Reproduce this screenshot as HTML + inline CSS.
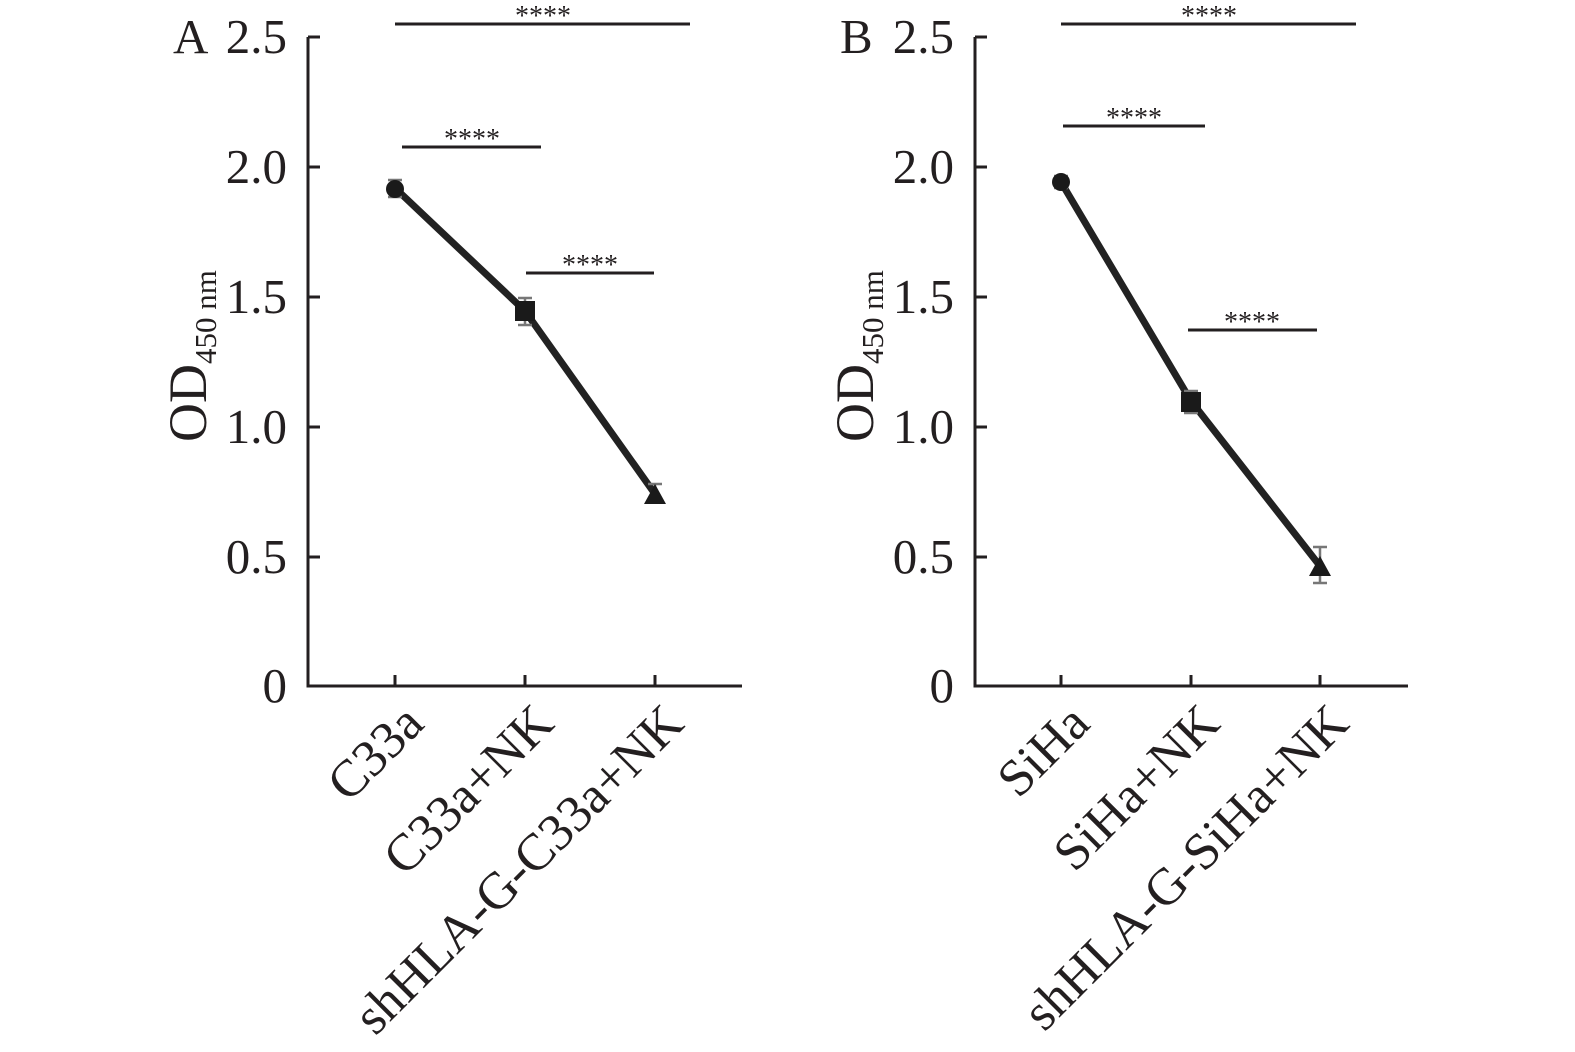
<!DOCTYPE html>
<html><head><style>body{margin:0;background:#fff}svg{display:block}text{font-family:"Liberation Serif","Times New Roman",serif;fill:#231f20}</style></head>
<body>
<svg width="1575" height="1052" viewBox="0 0 1575 1052">
<g stroke="#231f20" stroke-width="3" fill="none">
<path d="M308,37 V686 H742"/>
<path d="M308,37 h12 M308,167 h12 M308,297 h12 M308,427 h12 M308,557 h12"/>
<path d="M395,686 v-11 M525,686 v-11 M655,686 v-11"/>
<path d="M975,37 V686 H1408"/>
<path d="M975,37 h12 M975,167 h12 M975,297 h12 M975,427 h12 M975,557 h12"/>
<path d="M1061,686 v-11 M1191,686 v-11 M1320,686 v-11"/>
<path d="M395,24 H690 M402,147 H541 M526,273 H654"/>
<path d="M1061,24 H1356 M1063,126 H1205 M1188,330 H1317"/>
</g>
<g stroke="#222" stroke-width="7" fill="none"><path d="M395,188 L525,311 L655,494"/><path d="M1061,182 L1191,401 L1320,566"/></g>
<g stroke="#777" stroke-width="2.5" fill="none">
<path d="M395,180 v17 M388,180 h14 M388,197 h14"/>
<path d="M525,298 v27 M518,298 h14 M518,325 h14"/>
<path d="M655,484 v12 M648,484 h14"/>
<path d="M1061,176 v12 M1054,176 h14 M1054,188 h14"/>
<path d="M1191,391 v22 M1184,391 h14 M1184,413 h14"/>
<path d="M1320,547 v36 M1313,547 h14 M1313,583 h14"/>
</g>
<g fill="#1a1a1a">
<circle cx="395" cy="189" r="9"/><rect x="515" y="301" width="20" height="20"/><path d="M655,484 L666,504 L644,504Z"/>
<circle cx="1061" cy="182" r="9"/><rect x="1181" y="392" width="20" height="20"/><path d="M1320,556 L1331,576 L1309,576Z"/>
</g>
<g font-size="28" text-anchor="middle">
<text x="543" y="25">****</text><text x="472" y="148">****</text><text x="590" y="274">****</text>
<text x="1209" y="25">****</text><text x="1134" y="127">****</text><text x="1252" y="331">****</text>
</g>
<g font-size="49" text-anchor="end">
<text x="287" y="53">2.5</text><text x="287" y="183">2.0</text><text x="287" y="313">1.5</text><text x="287" y="443">1.0</text><text x="287" y="573">0.5</text><text x="287" y="702">0</text>
<text x="954" y="53">2.5</text><text x="954" y="183">2.0</text><text x="954" y="313">1.5</text><text x="954" y="443">1.0</text><text x="954" y="573">0.5</text><text x="954" y="702">0</text>
</g>
<text x="173" y="53" font-size="49">A</text>
<text x="840" y="53" font-size="49">B</text>
<text transform="translate(206,442) rotate(-90)" font-size="54">OD<tspan font-size="31" dy="10">450 nm</tspan></text>
<text transform="translate(873,442) rotate(-90)" font-size="54">OD<tspan font-size="31" dy="10">450 nm</tspan></text>
<g font-size="52" text-anchor="end">
<text transform="translate(426,726) rotate(-45)">C33a</text>
<text transform="translate(556,726) rotate(-45)">C33a+NK</text>
<text transform="translate(686,726) rotate(-45)">shHLA-G-C33a+NK</text>
<text transform="translate(1092,726) rotate(-45)">SiHa</text>
<text transform="translate(1222,726) rotate(-45)">SiHa+NK</text>
<text transform="translate(1351,726) rotate(-45)">shHLA-G-SiHa+NK</text>
</g>
</svg>
</body></html>
